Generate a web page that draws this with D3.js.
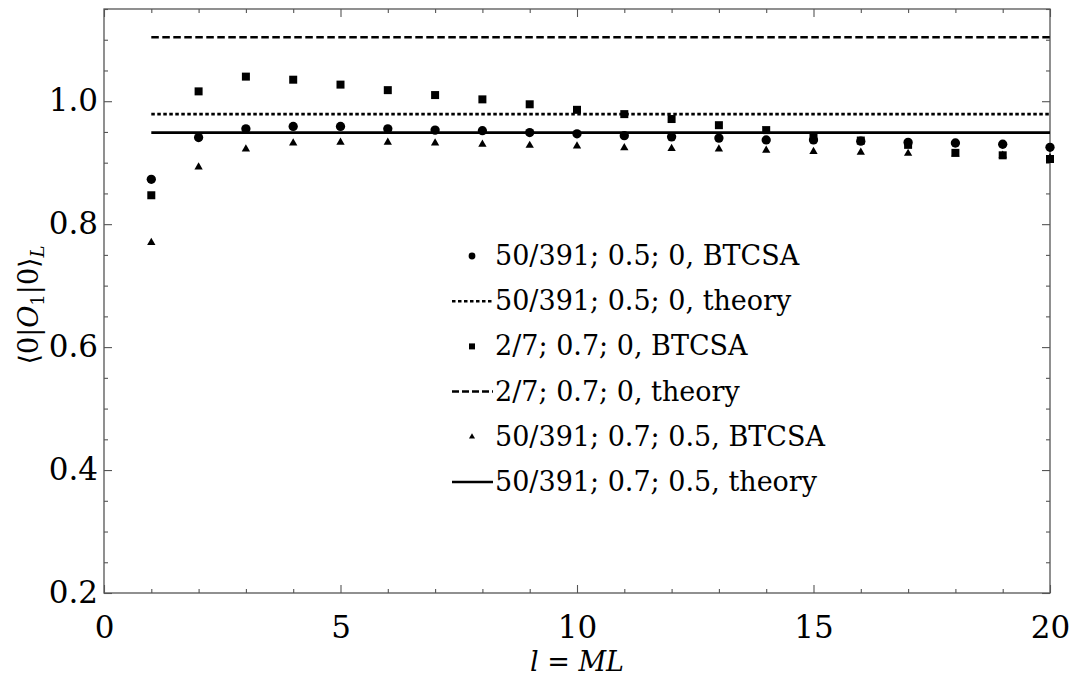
<!DOCTYPE html>
<meta charset="utf-8">
<style>
body { margin: 0; background: #fff; }
svg text { font-family: "DejaVu Serif", "Liberation Serif", "Times New Roman", serif !important; fill: #000; }
.frame { fill: none; stroke: #555; stroke-width: 1.3px; }
.tick line { stroke: #555; stroke-width: 1.1px; }
</style>
<script src="https://d3js.org/d3.v7.min.js"></script>
<body>
<div id="chart"></div>
</body>
<script>

// l = ML values
var lValues = [1, 2, 3, 4, 5, 6, 7, 8, 9, 10, 11, 12, 13, 14, 15, 16, 17, 18, 19, 20];

// BTCSA points
var circles   = [0.873, 0.941, 0.955, 0.959, 0.959, 0.955, 0.953, 0.952, 0.949, 0.947,
                 0.944, 0.942, 0.940, 0.937, 0.937, 0.935, 0.933, 0.932, 0.930, 0.925];
var squares   = [0.847, 1.016, 1.040, 1.035, 1.027, 1.018, 1.010, 1.003, 0.995, 0.986,
                 0.979, 0.971, 0.961, 0.953, 0.943, 0.936, 0.929, 0.916, 0.912, 0.906];
var triangles = [0.770, 0.893, 0.922, 0.932, 0.933, 0.933, 0.932, 0.930, 0.928, 0.927,
                 0.924, 0.923, 0.922, 0.920, 0.918, 0.917, 0.915, 0.914, 0.912, 0.908];

// theory values (constant lines from l = 1 to 20)
var theoryDotted = 0.979;
var theoryDashed = 1.104;
var theorySolid  = 0.949;

var xMajor = [0, 5, 10, 15, 20];
var yMajor = [0.2, 0.4, 0.6, 0.8, 1.0];

var legendLabels = [
  "50/391; 0.5; 0, BTCSA",
  "50/391; 0.5; 0, theory",
  "2/7; 0.7; 0, BTCSA",
  "2/7; 0.7; 0, theory",
  "50/391; 0.7; 0.5, BTCSA",
  "50/391; 0.7; 0.5, theory"
];

var W = 1073, H = 679;
var margin = {top: 9, right: 23, bottom: 86, left: 104};
var width = W - margin.left - margin.right,
    height = H - margin.top - margin.bottom;

var x = d3.scaleLinear().domain([0, 20]).range([0, width]);
var y = d3.scaleLinear().domain([0.2, 1.15]).range([height, 0]);

var svg = d3.select("#chart").append("svg")
    .attr("width", W)
    .attr("height", H)
  .append("g")
    .attr("transform", "translate(" + margin.left + "," + margin.top + ")");

// ticks: majors long, minors short, all pointing inward
var xMinor = d3.range(0, 20.001, 1).filter(function(v) { return v % 5 !== 0; });
var yMinor = d3.range(0.2, 1.151, 0.05).map(function(v) { return +v.toFixed(2); })
    .filter(function(v) { return yMajor.indexOf(v) < 0; });

function addAxis(axis, transform, labels) {
  var g = svg.append("g").attr("transform", transform).call(axis);
  g.select(".domain").remove();
  if (!labels) g.selectAll("text").remove();
  return g;
}

// bottom
var gx = addAxis(d3.axisBottom(x).tickValues(xMajor).tickSize(-8).tickPadding(23)
    .tickFormat(d3.format("d")), "translate(0," + height + ")", true);
gx.selectAll("text").attr("font-size", 31).attr("dy", "0.71em");
addAxis(d3.axisBottom(x).tickValues(xMinor).tickSize(-4), "translate(0," + height + ")", false);
// top
addAxis(d3.axisTop(x).tickValues(xMajor).tickSize(-8), "translate(0,0)", false);
addAxis(d3.axisTop(x).tickValues(xMinor).tickSize(-4), "translate(0,0)", false);
// left
var gy = addAxis(d3.axisLeft(y).tickValues(yMajor).tickSize(-8).tickPadding(6)
    .tickFormat(d3.format(".1f")), "translate(0,0)", true);
gy.selectAll("text").attr("font-size", 31).attr("dy", "0.3em");
addAxis(d3.axisLeft(y).tickValues(yMinor).tickSize(-4), "translate(0,0)", false);
// right
addAxis(d3.axisRight(y).tickValues(yMajor).tickSize(-8), "translate(" + width + ",0)", false);
addAxis(d3.axisRight(y).tickValues(yMinor).tickSize(-4), "translate(" + width + ",0)", false);

svg.append("rect").attr("class", "frame")
    .attr("x", 0).attr("y", 0).attr("width", width).attr("height", height);

// theory lines
var theory = [
  {v: theoryDashed, dash: "7.5,3.5", w: 2.6},
  {v: theoryDotted, dash: "3.5,2.5", w: 2.6},
  {v: theorySolid,  dash: null,      w: 2.8}
];
svg.selectAll(".theory").data(theory).enter().append("line")
    .attr("class", "theory")
    .attr("x1", x(1)).attr("x2", x(20))
    .attr("y1", function(d) { return y(d.v); })
    .attr("y2", function(d) { return y(d.v); })
    .attr("stroke", "#000")
    .attr("stroke-width", function(d) { return d.w; })
    .attr("stroke-dasharray", function(d) { return d.dash; });

// point markers
var symCircle = d3.symbol().type(d3.symbolCircle).size(68);
var symSquare = d3.symbol().type(d3.symbolSquare).size(64);
var symTri    = d3.symbol().type(d3.symbolTriangle).size(30);

function drawPoints(vals, sym) {
  svg.append("g").selectAll("path").data(vals).enter().append("path")
      .attr("d", sym)
      .attr("fill", "#000")
      .attr("transform", function(d, i) {
        return "translate(" + x(lValues[i]) + "," + y(d) + ")";
      });
}
drawPoints(circles, symCircle);
drawPoints(squares, symSquare);
drawPoints(triangles, symTri);

// legend
var lx = 452 - margin.left, ly0 = 256 - margin.top, lstep = 45.2;
var leg = svg.append("g");
legendLabels.forEach(function(lab, i) {
  var yy = ly0 + i * lstep;
  var g = leg.append("g").attr("transform", "translate(" + lx + "," + yy + ")");
  if (i === 0) g.append("path").attr("d", d3.symbol().type(d3.symbolCircle).size(36)).attr("transform", "translate(20,0)");
  if (i === 2) g.append("path").attr("d", d3.symbol().type(d3.symbolSquare).size(36)).attr("transform", "translate(20,0)");
  if (i === 4) g.append("path").attr("d", d3.symbol().type(d3.symbolTriangle).size(16)).attr("transform", "translate(20,0)");
  if (i === 1 || i === 3 || i === 5) {
    g.append("line").attr("x1", 0).attr("x2", 41).attr("y1", 0).attr("y2", 0)
        .attr("stroke", "#000").attr("stroke-width", 2.5)
        .attr("stroke-dasharray", i === 1 ? "3.5,2.5" : (i === 3 ? "7,3" : null));
  }
  g.append("text").attr("x", 43).attr("y", 0).attr("dy", "0.33em")
      .attr("font-size", 27).text(lab);
});

// axis labels
svg.append("text")
    .attr("x", width / 2).attr("y", height + 78)
    .attr("text-anchor", "middle").attr("font-size", 27)
    .html('<tspan font-style="italic">l</tspan> = <tspan font-style="italic">ML</tspan>');

svg.append("text")
    .attr("transform", "translate(" + (38 - margin.left) + "," + (305 - margin.top) + ") rotate(-90)")
    .attr("text-anchor", "middle").attr("font-size", 27)
    .html('⟨0|<tspan font-style="italic">O</tspan><tspan font-size="18" dy="6">1</tspan><tspan dy="-6">|0⟩</tspan><tspan font-style="italic" font-size="18" dy="6">L</tspan>');

</script>
